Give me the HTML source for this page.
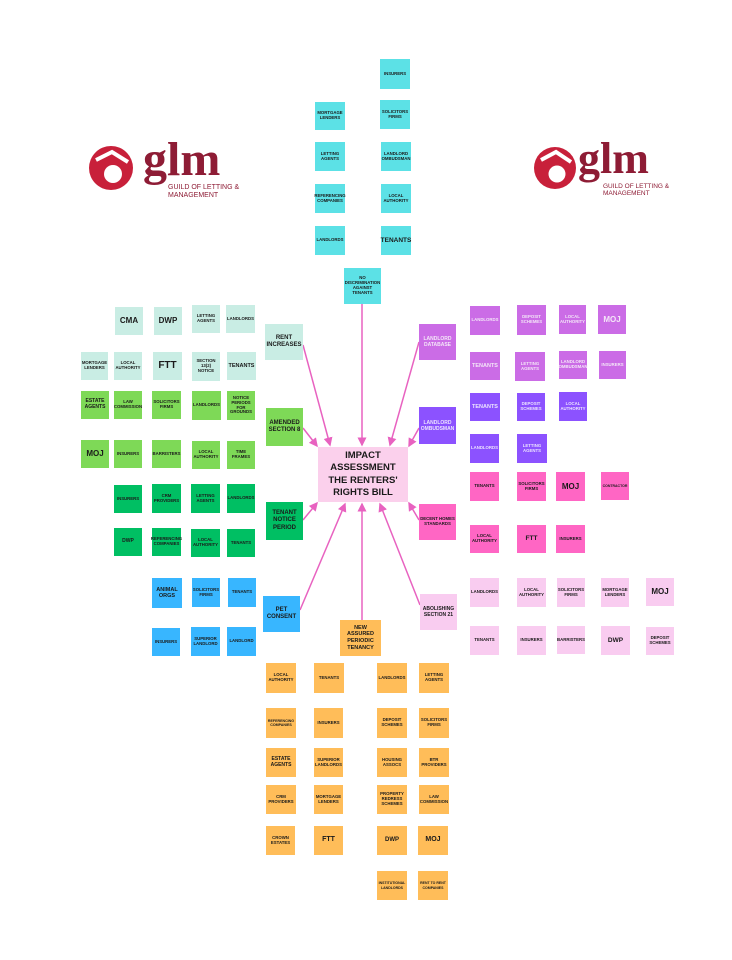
<!DOCTYPE html>
<html><head><meta charset="utf-8"><style>
body{margin:0;width:732px;height:960px;background:#fff;position:relative;overflow:hidden;font-family:"Liberation Sans",sans-serif}
.n{position:absolute;display:flex;align-items:center;justify-content:center;text-align:center;font-weight:bold;font-size:4.3px;line-height:1.15;color:#1a1a1a;box-sizing:border-box;padding:1px}
.L{font-size:8px}.H{font-size:6px;line-height:1.2}
.c{background:#5ce1e6}.t{background:#c9ede4}.g{background:#7ed957}.d{background:#00bf63}
.p{background:#cb6ce6;color:#f4e6f8}.v{background:#8c52ff;color:#ece4ff}.k{background:#ff66c4}.q{background:#f9ccf0}
.b{background:#38b6ff}.o{background:#ffbd59}
.logo{position:absolute}
</style></head><body>
<svg width="732" height="960" style="position:absolute;left:0;top:0">
<defs><marker id="a" markerWidth="6" markerHeight="6" refX="5" refY="3" orient="auto"><path d="M0,0L6,3L0,6z" fill="#e862c0"/></marker></defs>
<g stroke="#e862c0" stroke-width="1.5" marker-end="url(#a)">
<line x1="362" y1="304" x2="362" y2="445"/>
<line x1="303" y1="345" x2="330" y2="445"/>
<line x1="419" y1="342" x2="390" y2="445"/>
<line x1="303" y1="428" x2="317" y2="446"/>
<line x1="419" y1="428" x2="409" y2="446"/>
<line x1="303" y1="520" x2="317" y2="503"/>
<line x1="419" y1="520" x2="409" y2="503"/>
<line x1="300" y1="610" x2="345" y2="504"/>
<line x1="362" y1="620" x2="362" y2="504"/>
<line x1="420" y1="605" x2="380" y2="504"/>
</g>
<circle cx="111" cy="168" r="22" fill="#c8203a"/><circle cx="113" cy="174" r="9" fill="#fff"/><path d="M96 160 L112 152 L128 162" stroke="#fff" stroke-width="4" fill="none"/>
<circle cx="555" cy="168" r="21" fill="#c8203a"/><circle cx="557" cy="174" r="8.5" fill="#fff"/><path d="M541 160 L556 152 L571 162" stroke="#fff" stroke-width="4" fill="none"/>
</svg>
<div class="logo" style="left:143px;top:136px;font:bold 48px 'Liberation Serif',serif;color:#8e1c35;line-height:48px">glm</div>
<div class="logo" style="left:168px;top:184px;font-size:7px;color:#8e1c35;line-height:7.5px">GUILD OF LETTING &amp;<br>MANAGEMENT</div>
<div class="logo" style="left:578px;top:137px;font:bold 44px 'Liberation Serif',serif;color:#8e1c35;line-height:44px">glm</div>
<div class="logo" style="left:603px;top:183px;font-size:6.5px;color:#8e1c35;line-height:7px">GUILD OF LETTING &amp;<br>MANAGEMENT</div>

<div class="n" style="left:318px;top:447px;width:90px;height:55px;background:#fbd0ec;font-size:9.5px;line-height:1.3">IMPACT<br>ASSESSMENT<br>THE RENTERS'<br>RIGHTS BILL</div>

<div class="n c" style="left:380px;top:59px;width:30px;height:30px">INSURERS</div>
<div class="n c" style="left:315px;top:102px;width:30px;height:28px">MORTGAGE LENDERS</div>
<div class="n c" style="left:380px;top:100px;width:30px;height:29px">SOLICITORS FIRMS</div>
<div class="n c" style="left:315px;top:142px;width:30px;height:29px">LETTING AGENTS</div>
<div class="n c" style="left:381px;top:142px;width:30px;height:29px">LANDLORD OMBUDSMAN</div>
<div class="n c" style="left:315px;top:184px;width:30px;height:29px">REFERENCING COMPANIES</div>
<div class="n c" style="left:381px;top:184px;width:30px;height:29px">LOCAL AUTHORITY</div>
<div class="n c" style="left:315px;top:226px;width:30px;height:29px">LANDLORDS</div>
<div class="n c L" style="left:381px;top:226px;width:30px;height:29px;font-size:6.5px">TENANTS</div>
<div class="n c" style="left:344px;top:268px;width:37px;height:36px">NO DISCRIMINATION AGAINST TENANTS</div>

<div class="n t L" style="left:115px;top:307px;width:28px;height:28px">CMA</div>
<div class="n t L" style="left:154px;top:307px;width:28px;height:28px">DWP</div>
<div class="n t" style="left:192px;top:305px;width:28px;height:28px">LETTING AGENTS</div>
<div class="n t" style="left:226px;top:305px;width:29px;height:28px">LANDLORDS</div>
<div class="n t" style="left:81px;top:352px;width:27px;height:28px">MORTGAGE LENDERS</div>
<div class="n t" style="left:114px;top:352px;width:28px;height:28px">LOCAL AUTHORITY</div>
<div class="n t L" style="left:153px;top:352px;width:29px;height:28px;font-size:10px">FTT</div>
<div class="n t" style="left:192px;top:352px;width:28px;height:29px">SECTION 13(2) NOTICE</div>
<div class="n t" style="left:227px;top:352px;width:29px;height:28px;font-size:5.5px">TENANTS</div>
<div class="n t H" style="left:265px;top:324px;width:38px;height:36px">RENT INCREASES</div>

<div class="n g" style="left:81px;top:391px;width:28px;height:28px;font-size:5px">ESTATE AGENTS</div>
<div class="n g" style="left:114px;top:391px;width:28px;height:28px">LAW COMMISSION</div>
<div class="n g" style="left:152px;top:391px;width:29px;height:28px">SOLICITORS FIRMS</div>
<div class="n g" style="left:192px;top:391px;width:29px;height:29px">LANDLORDS</div>
<div class="n g" style="left:227px;top:391px;width:28px;height:29px">NOTICE PERIODS FOR GROUNDS</div>
<div class="n g L" style="left:81px;top:440px;width:28px;height:28px">MOJ</div>
<div class="n g" style="left:114px;top:440px;width:28px;height:28px">INSURERS</div>
<div class="n g" style="left:152px;top:440px;width:29px;height:28px">BARRISTERS</div>
<div class="n g" style="left:192px;top:441px;width:28px;height:28px">LOCAL AUTHORITY</div>
<div class="n g" style="left:227px;top:441px;width:28px;height:28px">TIME FRAMES</div>
<div class="n g H" style="left:266px;top:408px;width:37px;height:38px">AMENDED SECTION 8</div>

<div class="n d" style="left:114px;top:485px;width:28px;height:28px">INSURERS</div>
<div class="n d" style="left:152px;top:484px;width:29px;height:29px">CRM PROVIDERS</div>
<div class="n d" style="left:191px;top:484px;width:29px;height:29px">LETTING AGENTS</div>
<div class="n d" style="left:227px;top:484px;width:28px;height:29px">LANDLORDS</div>
<div class="n d" style="left:114px;top:528px;width:28px;height:28px;font-size:5px">DWP</div>
<div class="n d" style="left:152px;top:528px;width:29px;height:28px">REFERENCING COMPANIES</div>
<div class="n d" style="left:191px;top:529px;width:29px;height:28px">LOCAL AUTHORITY</div>
<div class="n d" style="left:227px;top:529px;width:28px;height:28px">TENANTS</div>
<div class="n d H" style="left:266px;top:502px;width:37px;height:38px">TENANT NOTICE PERIOD</div>

<div class="n p H" style="left:419px;top:324px;width:37px;height:36px;font-size:5px">LANDLORD DATABASE</div>
<div class="n p" style="left:470px;top:306px;width:30px;height:29px">LANDLORDS</div>
<div class="n p" style="left:517px;top:305px;width:29px;height:30px">DEPOSIT SCHEMES</div>
<div class="n p" style="left:559px;top:305px;width:27px;height:29px">LOCAL AUTHORITY</div>
<div class="n p L" style="left:598px;top:305px;width:28px;height:29px">MOJ</div>
<div class="n p" style="left:470px;top:352px;width:30px;height:28px;font-size:5.5px">TENANTS</div>
<div class="n p" style="left:515px;top:352px;width:30px;height:29px">LETTING AGENTS</div>
<div class="n p" style="left:559px;top:351px;width:28px;height:28px">LANDLORD OMBUDSMAN</div>
<div class="n p" style="left:599px;top:351px;width:27px;height:28px">INSURERS</div>

<div class="n v H" style="left:419px;top:407px;width:37px;height:37px;font-size:5px">LANDLORD OMBUDSMAN</div>
<div class="n v" style="left:470px;top:393px;width:30px;height:28px;font-size:5.5px">TENANTS</div>
<div class="n v" style="left:517px;top:393px;width:28px;height:28px">DEPOSIT SCHEMES</div>
<div class="n v" style="left:559px;top:392px;width:28px;height:29px">LOCAL AUTHORITY</div>
<div class="n v" style="left:470px;top:434px;width:29px;height:29px">LANDLORDS</div>
<div class="n v" style="left:517px;top:434px;width:30px;height:29px">LETTING AGENTS</div>

<div class="n k" style="left:470px;top:472px;width:29px;height:29px">TENANTS</div>
<div class="n k" style="left:517px;top:472px;width:29px;height:29px">SOLICITORS FIRMS</div>
<div class="n k L" style="left:556px;top:472px;width:29px;height:29px">MOJ</div>
<div class="n k" style="left:601px;top:472px;width:28px;height:28px;font-size:3.5px">CONTRACTOR</div>
<div class="n k" style="left:419px;top:504px;width:37px;height:36px">DECENT HOMES STANDARDS</div>
<div class="n k" style="left:470px;top:525px;width:29px;height:28px">LOCAL AUTHORITY</div>
<div class="n k" style="left:517px;top:525px;width:29px;height:28px;font-size:6.5px">FTT</div>
<div class="n k" style="left:556px;top:525px;width:29px;height:28px">INSURERS</div>

<div class="n q H" style="left:420px;top:594px;width:37px;height:36px;font-size:5px">ABOLISHING SECTION 21</div>
<div class="n q" style="left:470px;top:578px;width:29px;height:29px">LANDLORDS</div>
<div class="n q" style="left:517px;top:578px;width:29px;height:29px">LOCAL AUTHORITY</div>
<div class="n q" style="left:557px;top:578px;width:28px;height:29px">SOLICITORS FIRMS</div>
<div class="n q" style="left:601px;top:578px;width:28px;height:29px">MORTGAGE LENDERS</div>
<div class="n q L" style="left:646px;top:578px;width:28px;height:28px">MOJ</div>
<div class="n q" style="left:470px;top:626px;width:29px;height:29px">TENANTS</div>
<div class="n q" style="left:517px;top:626px;width:29px;height:29px">INSURERS</div>
<div class="n q" style="left:557px;top:626px;width:28px;height:28px">BARRISTERS</div>
<div class="n q L" style="left:601px;top:626px;width:29px;height:29px;font-size:6.5px">DWP</div>
<div class="n q" style="left:646px;top:627px;width:28px;height:28px">DEPOSIT SCHEMES</div>

<div class="n b" style="left:152px;top:578px;width:30px;height:30px;font-size:5.5px">ANIMAL ORGS</div>
<div class="n b" style="left:192px;top:578px;width:28px;height:29px">SOLICITORS FIRMS</div>
<div class="n b" style="left:228px;top:578px;width:28px;height:29px">TENANTS</div>
<div class="n b H" style="left:263px;top:596px;width:37px;height:36px">PET CONSENT</div>
<div class="n b" style="left:152px;top:628px;width:28px;height:28px">INSURERS</div>
<div class="n b" style="left:191px;top:627px;width:29px;height:29px">SUPERIOR LANDLORD</div>
<div class="n b" style="left:227px;top:627px;width:29px;height:29px">LANDLORD</div>

<div class="n o H" style="left:340px;top:620px;width:41px;height:36px;font-size:5.5px">NEW ASSURED PERIODIC TENANCY</div>
<div class="n o" style="left:266px;top:663px;width:30px;height:30px">LOCAL AUTHORITY</div>
<div class="n o" style="left:314px;top:663px;width:30px;height:30px">TENANTS</div>
<div class="n o" style="left:377px;top:663px;width:30px;height:30px">LANDLORDS</div>
<div class="n o" style="left:419px;top:663px;width:30px;height:30px">LETTING AGENTS</div>
<div class="n o" style="left:266px;top:708px;width:30px;height:30px;font-size:3.6px">REFERENCING COMPANIES</div>
<div class="n o" style="left:314px;top:708px;width:29px;height:30px">INSURERS</div>
<div class="n o" style="left:377px;top:708px;width:30px;height:30px">DEPOSIT SCHEMES</div>
<div class="n o" style="left:419px;top:708px;width:30px;height:30px">SOLICITORS FIRMS</div>
<div class="n o" style="left:266px;top:748px;width:30px;height:29px;font-size:5px">ESTATE AGENTS</div>
<div class="n o" style="left:314px;top:748px;width:29px;height:29px">SUPERIOR LANDLORDS</div>
<div class="n o" style="left:377px;top:748px;width:30px;height:29px">HOUSING ASSOCS</div>
<div class="n o" style="left:419px;top:748px;width:30px;height:29px">BTR PROVIDERS</div>
<div class="n o" style="left:266px;top:785px;width:30px;height:29px">CRM PROVIDERS</div>
<div class="n o" style="left:314px;top:785px;width:29px;height:29px">MORTGAGE LENDERS</div>
<div class="n o" style="left:377px;top:785px;width:30px;height:29px">PROPERTY REDRESS SCHEMES</div>
<div class="n o" style="left:419px;top:785px;width:30px;height:29px">LAW COMMISSION</div>
<div class="n o" style="left:266px;top:826px;width:29px;height:29px">CROWN ESTATES</div>
<div class="n o" style="left:314px;top:826px;width:29px;height:29px;font-size:7px">FTT</div>
<div class="n o" style="left:377px;top:826px;width:30px;height:29px;font-size:6px">DWP</div>
<div class="n o" style="left:418px;top:826px;width:30px;height:29px;font-size:7px">MOJ</div>
<div class="n o" style="left:377px;top:871px;width:30px;height:29px;font-size:3.5px">INSTITUTIONAL LANDLORDS</div>
<div class="n o" style="left:418px;top:871px;width:30px;height:29px;font-size:3.5px">RENT TO RENT COMPANIES</div>
</body></html>
